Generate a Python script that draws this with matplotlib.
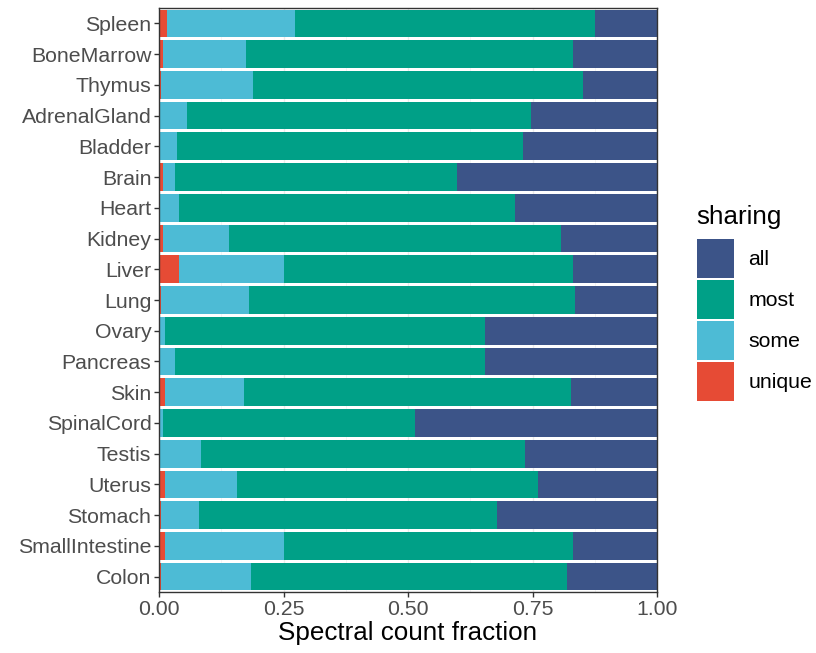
import matplotlib
matplotlib.use("Agg")
import matplotlib.pyplot as plt
from matplotlib.patches import Patch
import numpy as np

plt.rcParams['font.family'] = ['Liberation Sans', 'DejaVu Sans']

tissues = ["Spleen", "BoneMarrow", "Thymus", "AdrenalGland", "Bladder", "Brain",
           "Heart", "Kidney", "Liver", "Lung", "Ovary", "Pancreas", "Skin",
           "SpinalCord", "Testis", "Uterus", "Stomach", "SmallIntestine", "Colon"]

# fractions of spectral counts per sharing class
unique = [0.017, 0.009, 0.005, 0.002, 0.001, 0.009, 0.001, 0.009, 0.041, 0.005,
          0.001, 0.001, 0.013, 0.002, 0.001, 0.013, 0.005, 0.013, 0.005]
some = [0.256, 0.165, 0.184, 0.055, 0.036, 0.024, 0.040, 0.132, 0.209, 0.176,
        0.012, 0.032, 0.157, 0.007, 0.084, 0.144, 0.076, 0.237, 0.180]
most = [0.603, 0.657, 0.662, 0.689, 0.694, 0.565, 0.673, 0.666, 0.581, 0.654,
        0.642, 0.622, 0.657, 0.505, 0.649, 0.605, 0.597, 0.581, 0.634]
all_ = [1 - u - s - m for u, s, m in zip(unique, some, most)]

series = [("unique", unique, "#E64B35"),
          ("some", some, "#4DBBD5"),
          ("most", most, "#00A087"),
          ("all", all_, "#3C5488")]

fig = plt.figure(figsize=(8.16, 6.53), dpi=100)
ax = fig.add_axes([159 / 816, 1 - 592 / 653, 498 / 816, 584 / 653])

y = np.arange(len(tissues))[::-1]
left = np.zeros(len(tissues))
for name, vals, col in series:
    vals = np.array(vals)
    ax.barh(y, vals, left=left, height=0.9, color=col, edgecolor="none", zorder=2)
    left += vals

ax.set_xlim(0, 1)
ax.set_ylim(-0.5, len(tissues) - 0.5)
ax.set_yticks(y)
ax.set_yticklabels(tissues)
ax.set_xticks([0, 0.25, 0.5, 0.75, 1.0])
ax.set_xticklabels(["0.00", "0.25", "0.50", "0.75", "1.00"])
ax.set_xticks([0.125, 0.375, 0.625, 0.875], minor=True)
ax.grid(True, which="major", axis="both", color="#EBEBEB", linewidth=1.0, zorder=0)
ax.grid(True, which="minor", axis="x", color="#F2F2F2", linewidth=0.6, zorder=0)
ax.tick_params(axis="both", which="major", labelsize=15.3, labelcolor="#4D4D4D",
               color="#333333", length=3.5, width=1.0, pad=2)
ax.tick_params(axis="both", which="minor", length=0)
for sp in ax.spines.values():
    sp.set_color("#333333")
    sp.set_linewidth(1.0)
ax.set_xlabel("Spectral count fraction", fontsize=18.7, color="black", labelpad=2)

# legend: title drawn separately to leave a gap above the keys
fig.text(696 / 816, 1 - 224 / 653, "sharing", fontsize=18.7, ha="left",
         va="baseline", color="black")
handles = [Patch(facecolor=c, edgecolor="none") for _, _, c in series[::-1]]
labels = [n for n, _, _ in series[::-1]]
fig.legend(handles, labels, loc="upper left",
           bbox_to_anchor=(688 / 816, 1 - 230 / 653), frameon=False,
           fontsize=15.3, handlelength=1.78, handleheight=2.45,
           labelspacing=0.1, handletextpad=0.65, borderaxespad=0)

fig.savefig("out.png", dpi=100)
